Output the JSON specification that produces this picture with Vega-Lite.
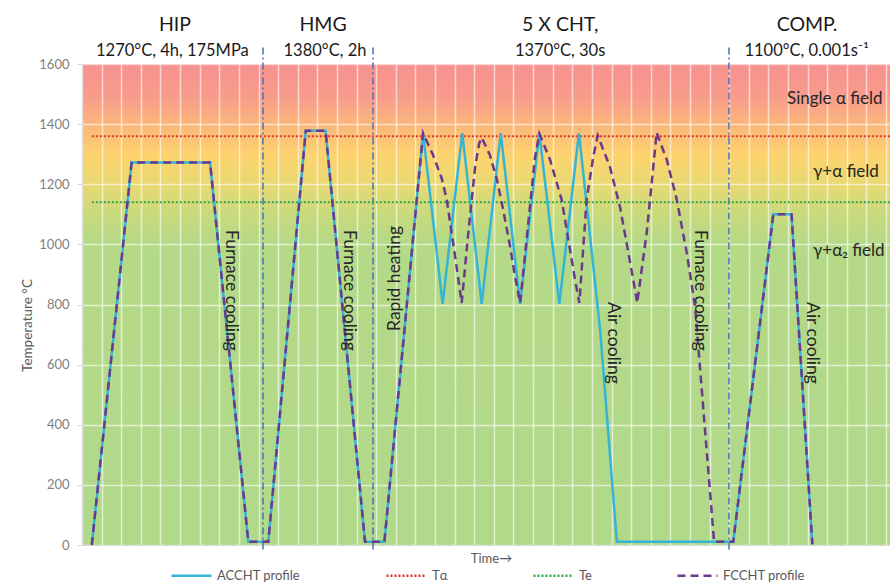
{
  "$schema": "https://vega.github.io/schema/vega-lite/v6.json",
  "autosize": {"type": "none"},
  "padding": {"left": 82, "top": 64, "right": 0, "bottom": 39},
  "width": 808,
  "height": 481,
  "background": "white",
  "config": {
    "font": "Lato",
    "view": {
      "stroke": null,
      "fill": {
        "gradient": "linear", "x1": 0, "y1": 0, "x2": 0, "y2": 1,
        "stops": [
          {"offset": 0, "color": "#F7918F"},
          {"offset": 0.07, "color": "#F89C8B"},
          {"offset": 0.125, "color": "#FAB67B"},
          {"offset": 0.19, "color": "#FDD36E"},
          {"offset": 0.25, "color": "#E9D973"},
          {"offset": 0.31, "color": "#C9DA7D"},
          {"offset": 0.375, "color": "#B4D987"},
          {"offset": 1, "color": "#B1D98A"}
        ]
      }
    },
    "legend": {
      "orient": "none",
      "legendX": 88,
      "legendY": 490,
      "direction": "horizontal",
      "columns": 4,
      "columnPadding": 80,
      "symbolType": "stroke",
      "symbolSize": 1600,
      "symbolStrokeWidth": 2.5,
      "labelFont": "Lato",
      "labelFontSize": 13,
      "labelColor": "#595959",
      "labelOffset": 4,
      "padding": 0,
      "title": null
    }
  },
  "datasets": {
    "profiles": [
      {"series": "ACCHT profile", "time": 0.5, "temp": 0},
      {"series": "ACCHT profile", "time": 2.53, "temp": 1272},
      {"series": "ACCHT profile", "time": 6.53, "temp": 1272},
      {"series": "ACCHT profile", "time": 8.48, "temp": 11},
      {"series": "ACCHT profile", "time": 9.5, "temp": 11},
      {"series": "ACCHT profile", "time": 11.41, "temp": 1378},
      {"series": "ACCHT profile", "time": 12.42, "temp": 1378},
      {"series": "ACCHT profile", "time": 14.43, "temp": 11},
      {"series": "ACCHT profile", "time": 15.42, "temp": 11},
      {"series": "ACCHT profile", "time": 17.39, "temp": 1370},
      {"series": "ACCHT profile", "time": 18.39, "temp": 802},
      {"series": "ACCHT profile", "time": 19.39, "temp": 1370},
      {"series": "ACCHT profile", "time": 20.38, "temp": 802},
      {"series": "ACCHT profile", "time": 21.35, "temp": 1370},
      {"series": "ACCHT profile", "time": 22.34, "temp": 802},
      {"series": "ACCHT profile", "time": 23.32, "temp": 1370},
      {"series": "ACCHT profile", "time": 24.34, "temp": 802},
      {"series": "ACCHT profile", "time": 25.34, "temp": 1370},
      {"series": "ACCHT profile", "time": 26.42, "temp": 715},
      {"series": "ACCHT profile", "time": 27.27, "temp": 11},
      {"series": "ACCHT profile", "time": 33.21, "temp": 11},
      {"series": "ACCHT profile", "time": 35.25, "temp": 1100},
      {"series": "ACCHT profile", "time": 36.18, "temp": 1100},
      {"series": "ACCHT profile", "time": 37.24, "temp": 2},
      {"series": "FCCHT profile", "time": 0.5, "temp": 0},
      {"series": "FCCHT profile", "time": 2.53, "temp": 1272},
      {"series": "FCCHT profile", "time": 6.53, "temp": 1272},
      {"series": "FCCHT profile", "time": 8.48, "temp": 11},
      {"series": "FCCHT profile", "time": 9.5, "temp": 11},
      {"series": "FCCHT profile", "time": 11.41, "temp": 1378},
      {"series": "FCCHT profile", "time": 12.42, "temp": 1378},
      {"series": "FCCHT profile", "time": 14.43, "temp": 11},
      {"series": "FCCHT profile", "time": 15.42, "temp": 11},
      {"series": "FCCHT profile", "time": 17.39, "temp": 1370},
      {"series": "FCCHT profile", "time": 17.9, "temp": 1297},
      {"series": "FCCHT profile", "time": 18.34, "temp": 1220},
      {"series": "FCCHT profile", "time": 18.6, "temp": 1148},
      {"series": "FCCHT profile", "time": 18.85, "temp": 1037},
      {"series": "FCCHT profile", "time": 19.1, "temp": 926},
      {"series": "FCCHT profile", "time": 19.36, "temp": 805},
      {"series": "FCCHT profile", "time": 19.7, "temp": 1040},
      {"series": "FCCHT profile", "time": 20.05, "temp": 1260},
      {"series": "FCCHT profile", "time": 20.25, "temp": 1335},
      {"series": "FCCHT profile", "time": 20.38, "temp": 1355},
      {"series": "FCCHT profile", "time": 20.8, "temp": 1297},
      {"series": "FCCHT profile", "time": 21.14, "temp": 1220},
      {"series": "FCCHT profile", "time": 21.48, "temp": 1114},
      {"series": "FCCHT profile", "time": 21.83, "temp": 992},
      {"series": "FCCHT profile", "time": 22.08, "temp": 893},
      {"series": "FCCHT profile", "time": 22.34, "temp": 805},
      {"series": "FCCHT profile", "time": 22.8, "temp": 1100},
      {"series": "FCCHT profile", "time": 23.1, "temp": 1290},
      {"series": "FCCHT profile", "time": 23.32, "temp": 1368},
      {"series": "FCCHT profile", "time": 23.87, "temp": 1281},
      {"series": "FCCHT profile", "time": 24.46, "temp": 1148},
      {"series": "FCCHT profile", "time": 24.8, "temp": 1015},
      {"series": "FCCHT profile", "time": 25.14, "temp": 882},
      {"series": "FCCHT profile", "time": 25.36, "temp": 805},
      {"series": "FCCHT profile", "time": 25.73, "temp": 1148},
      {"series": "FCCHT profile", "time": 26.07, "temp": 1292},
      {"series": "FCCHT profile", "time": 26.3, "temp": 1362},
      {"series": "FCCHT profile", "time": 26.92, "temp": 1258},
      {"series": "FCCHT profile", "time": 27.43, "temp": 1125},
      {"series": "FCCHT profile", "time": 27.77, "temp": 1004},
      {"series": "FCCHT profile", "time": 28.11, "temp": 882},
      {"series": "FCCHT profile", "time": 28.31, "temp": 805},
      {"series": "FCCHT profile", "time": 28.79, "temp": 1037},
      {"series": "FCCHT profile", "time": 29.05, "temp": 1204},
      {"series": "FCCHT profile", "time": 29.3, "temp": 1372},
      {"series": "FCCHT profile", "time": 29.82, "temp": 1281},
      {"series": "FCCHT profile", "time": 30.33, "temp": 1148},
      {"series": "FCCHT profile", "time": 30.84, "temp": 970},
      {"series": "FCCHT profile", "time": 31.26, "temp": 793},
      {"series": "FCCHT profile", "time": 31.85, "temp": 316},
      {"series": "FCCHT profile", "time": 32.23, "temp": 11},
      {"series": "FCCHT profile", "time": 33.21, "temp": 11},
      {"series": "FCCHT profile", "time": 35.25, "temp": 1100},
      {"series": "FCCHT profile", "time": 36.18, "temp": 1100},
      {"series": "FCCHT profile", "time": 37.24, "temp": 2},
      {"series": "Tα", "time": 0.5, "temp": 1360},
      {"series": "Tα", "time": 41.2, "temp": 1360},
      {"series": "Te", "time": 0.5, "temp": 1140},
      {"series": "Te", "time": 41.2, "temp": 1140}
    ],
    "seps": [
      {"time": 9.23, "top": 1655, "bottom": -25},
      {"time": 14.84, "top": 1655, "bottom": -25},
      {"time": 32.99, "top": 1655, "bottom": -25}
    ]
  },
  "encoding": {
    "x": {"field": "time", "type": "quantitative", "scale": {"domain": [0, 41.2], "nice": false, "zero": false},
      "axis": {"values": [0,1,2,3,4,5,6,7,8,9,10,11,12,13,14,15,16,17,18,19,20,21,22,23,24,25,26,27,28,29,30,31,32,33,34,35,36,37,38,39,40,41],
        "labels": false, "ticks": false, "domain": true, "domainColor": "#d9d9d9",
        "grid": true, "gridColor": "#ffffff", "gridOpacity": 0.6, "gridWidth": 1.5,
        "title": "Time→", "titleFont": "Lato", "titleFontSize": 13, "titleFontWeight": "normal", "titleColor": "#595959",
        "titleX": 409, "titleY": 13, "titleBaseline": "middle", "titleAlign": "center"}},
    "y": {"field": "temp", "type": "quantitative", "scale": {"domain": [0, 1600], "nice": false},
      "axis": {"values": [0,200,400,600,800,1000,1200,1400,1600], "format": "d",
        "labelFont": "Lato", "labelFontSize": 13, "labelColor": "#7f7f7f", "labelPadding": 8,
        "ticks": true, "tickSize": 5, "tickColor": "#d9d9d9", "domain": true, "domainColor": "#d9d9d9",
        "grid": true, "gridColor": "#ffffff", "gridOpacity": 0.6, "gridWidth": 1.5,
        "title": "Temperature  °C", "titleFont": "Lato", "titleFontSize": 13.5, "titleFontWeight": "normal", "titleColor": "#595959",
        "titleX": -55, "titleY": 261, "titleAngle": -90, "titleAlign": "center", "titleBaseline": "middle"}}
  },
  "layer": [
    {
      "data": {"name": "seps"},
      "mark": {"type": "rule", "color": "#4472C4", "strokeWidth": 1.5, "strokeDash": [7, 3, 2, 3]},
      "encoding": {"y": {"field": "top", "type": "quantitative"}, "y2": {"field": "bottom"}}
    },
    {
      "data": {"name": "profiles"},
      "transform": [{"filter": "datum.series === 'Tα' || datum.series === 'Te'"}],
      "mark": {"type": "line", "strokeWidth": 2},
      "encoding": {
        "color": {"field": "series", "type": "nominal",
          "scale": {"domain": ["ACCHT profile", "Tα", "Te", "FCCHT profile"], "range": ["#35B5D5", "#E0302A", "#2BA84A", "#693A8C"]}},
        "strokeDash": {"field": "series", "type": "nominal",
          "scale": {"domain": ["ACCHT profile", "Tα", "Te", "FCCHT profile"], "range": [[1, 0], [2, 2], [2, 2], [8, 5]]}},
        "detail": {"field": "series"}
      }
    },
    {
      "data": {"name": "profiles"},
      "transform": [{"filter": "datum.series === 'ACCHT profile'"}],
      "mark": {"type": "line", "strokeWidth": 2.5},
      "encoding": {
        "color": {"field": "series", "type": "nominal"},
        "strokeDash": {"field": "series", "type": "nominal"}
      }
    },
    {
      "data": {"name": "profiles"},
      "transform": [{"filter": "datum.series === 'FCCHT profile'"}],
      "mark": {"type": "line", "strokeWidth": 2.5},
      "encoding": {
        "color": {"field": "series", "type": "nominal"},
        "strokeDash": {"field": "series", "type": "nominal"}
      }
    },
    {
      "data": {"values": [
        {"time": 4.74, "temp": 1730, "label": "HIP"},
        {"time": 12.29, "temp": 1730, "label": "HMG"},
        {"time": 24.38, "temp": 1730, "label": "5 X CHT,"},
        {"time": 36.97, "temp": 1730, "label": "COMP."}
      ]},
      "mark": {"type": "text", "font": "Lato", "fontSize": 19.5, "color": "#1a1a1a", "align": "center", "baseline": "middle"},
      "encoding": {"text": {"field": "label"}}
    },
    {
      "data": {"values": [
        {"time": 4.61, "temp": 1643, "label": "1270°C, 4h, 175MPa"},
        {"time": 12.39, "temp": 1643, "label": "1380°C, 2h"},
        {"time": 24.38, "temp": 1643, "label": "1370°C, 30s"},
        {"time": 36.95, "temp": 1643, "label": "1100°C, 0.001s⁻¹"}
      ]},
      "mark": {"type": "text", "font": "Lato", "fontSize": 16.5, "color": "#1a1a1a", "align": "center", "baseline": "middle"},
      "encoding": {"text": {"field": "label"}}
    },
    {
      "data": {"values": [
        {"time": 35.95, "temp": 1484, "label": "Single α field"},
        {"time": 37.28, "temp": 1241, "label": "γ+α field"},
        {"time": 37.28, "temp": 978, "label": "γ+α₂ field"}
      ]},
      "mark": {"type": "text", "font": "Lato", "fontSize": 17, "color": "#262626", "align": "left", "baseline": "middle"},
      "encoding": {"text": {"field": "label"}}
    },
    {
      "data": {"values": [
        {"time": 7.6, "temp": 1048, "label": "Furnace cooling"},
        {"time": 13.62, "temp": 1048, "label": "Furnace cooling"},
        {"time": 31.51, "temp": 1048, "label": "Furnace cooling"},
        {"time": 27.08, "temp": 808, "label": "Air cooling"},
        {"time": 37.23, "temp": 808, "label": "Air cooling"}
      ]},
      "mark": {"type": "text", "font": "Lato", "fontSize": 17.5, "color": "#262626", "align": "left", "baseline": "middle", "angle": 90},
      "encoding": {"text": {"field": "label"}}
    },
    {
      "data": {"values": [
        {"time": 15.96, "temp": 712, "label": "Rapid heating"}
      ]},
      "mark": {"type": "text", "font": "Lato", "fontSize": 17.5, "color": "#262626", "align": "left", "baseline": "middle", "angle": 270},
      "encoding": {"text": {"field": "label"}}
    }
  ]
}
